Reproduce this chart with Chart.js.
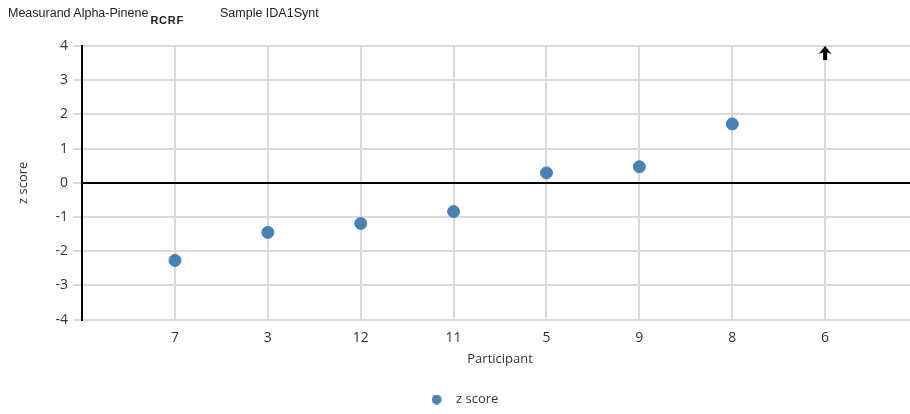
<!DOCTYPE html>
<html>
<head>
<meta charset="utf-8">
<script src="https://cdn.jsdelivr.net/npm/chart.js@4/dist/chart.umd.min.js"></script>
<style>
  html, body { margin: 0; padding: 0; background: #fff; overflow: hidden; }
  #wrap { position: relative; width: 910px; height: 414px; overflow: hidden; }
  #c { display: block; }
  #title { position: absolute; left: 8px; top: 6px; font-family: "Liberation Sans", Arial, sans-serif; font-size: 12.5px; color: #222; white-space: nowrap; }
  #title sub { font-size: 11px; font-weight: bold; vertical-align: -7px; margin-left: 2px; letter-spacing: 0.8px; }
  #title .sample { position: absolute; left: 212px; top: 0; }
</style>
</head>
<body>
<div id="wrap">
  <canvas id="c" width="918" height="414"></canvas>
  <div id="title">Measurand Alpha-Pinene<sub>RCRF</sub><span class="sample">Sample IDA1Synt</span></div>
</div>
<script>
// ---- data ----
const participants = ["7", "3", "12", "11", "5", "9", "8", "6"];
const zScores = [-2.27, -1.45, -1.19, -0.84, 0.29, 0.47, 1.72, null];
const offScaleHigh = [false, false, false, false, false, false, false, true];
const yTicks = [-4, -3, -2, -1, 0, 1, 2, 3, 4];
const yMin = -4, yMax = 4;

const POINT_COLOR = '#4682b4';

// arrow marker for values above the axis range
function makeArrow() {
  const cv = document.createElement('canvas');
  cv.width = 16; cv.height = 32;
  const g = cv.getContext('2d');
  g.fillStyle = '#000';
  g.beginPath();
  g.moveTo(8, 16);
  g.lineTo(14.5, 24);
  g.lineTo(10, 22.5);
  g.lineTo(10, 30);
  g.lineTo(6, 30);
  g.lineTo(6, 22.5);
  g.lineTo(1.5, 24);
  g.closePath();
  g.fill();
  return cv;
}

// legend marker: dot on the left side of a wider box
function makeLegendDot() {
  const cv = document.createElement('canvas');
  cv.width = 18; cv.height = 10;
  const g = cv.getContext('2d');
  g.fillStyle = POINT_COLOR;
  g.beginPath();
  g.arc(5, 5, 5, 0, Math.PI * 2);
  g.fill();
  return cv;
}
const legendDot = makeLegendDot();

const pts = zScores.map((v, i) => ({ x: i + 1, y: v }));
const arrows = offScaleHigh.map((f, i) => ({ x: i + 1, y: f ? yMax : null }));

const FONT = '"Open Sans", "Liberation Sans", Arial, sans-serif';
const GRID = '#d9d9d9';

new Chart(document.getElementById('c'), {
  type: 'scatter',
  data: {
    datasets: [
      {
        label: 'z score',
        data: pts,
        backgroundColor: POINT_COLOR,
        borderColor: POINT_COLOR,
        pointRadius: 6,
        pointHoverRadius: 6,
        pointStyle: 'circle'
      },
      {
        label: 'off scale',
        data: arrows,
        pointStyle: makeArrow(),
        pointRadius: 8,
        clip: false
      }
    ]
  },
  options: {
    responsive: false,
    animation: false,
    layout: { autoPadding: false, padding: { top: 46, left: 12, right: 0, bottom: -2 } },
    plugins: {
      tooltip: { enabled: false },
      legend: {
        position: 'bottom',
        labels: {
          usePointStyle: true,
          pointStyleWidth: 18,
          boxHeight: 10,
          padding: 14,
          color: '#333',
          font: { family: FONT, size: 13 },
          generateLabels: chart => [{
            text: chart.data.datasets[0].label,
            fillStyle: POINT_COLOR,
            strokeStyle: POINT_COLOR,
            lineWidth: 0,
            pointStyle: legendDot,
            hidden: false,
            datasetIndex: 0,
            fontColor: '#333'
          }]
        }
      }
    },
    scales: {
      x: {
        type: 'linear',
        min: 0,
        max: participants.length + 1,
        afterBuildTicks: axis => { axis.ticks = Array.from({ length: participants.length + 2 }, (_, i) => ({ value: i })); },
        afterFit: axis => { axis.paddingRight = 0; axis.paddingLeft = 0; },
        ticks: {
          callback: v => participants[v - 1] || '',
          color: '#333',
          padding: 10,
          maxRotation: 0,
          font: { family: FONT, size: 14 }
        },
        grid: {
          color: ctx => (ctx.tick && ctx.tick.value >= 1 && ctx.tick.value <= participants.length) ? GRID : 'rgba(0,0,0,0)',
          lineWidth: 2,
          drawTicks: false
        },
        border: { color: GRID, width: 2 },
        title: {
          display: true,
          text: 'Participant',
          color: '#333',
          padding: { top: -5, bottom: 12 },
          font: { family: FONT, size: 13 }
        }
      },
      y: {
        min: yMin,
        max: yMax,
        afterBuildTicks: axis => { axis.ticks = yTicks.map(v => ({ value: v })); },
        ticks: {
          color: '#333',
          padding: 5,
          font: { family: FONT, size: 14 }
        },
        grid: {
          color: ctx => (ctx.tick && ctx.tick.value === 0) ? '#000' : GRID,
          tickColor: GRID,
          lineWidth: 2,
          tickLength: 9
        },
        border: { color: '#000', width: 2 },
        title: {
          display: true,
          text: 'z score',
          color: '#333',
          padding: { top: 3, bottom: 20 },
          font: { family: FONT, size: 13 }
        }
      }
    }
  }
});
</script>
</body>
</html>
